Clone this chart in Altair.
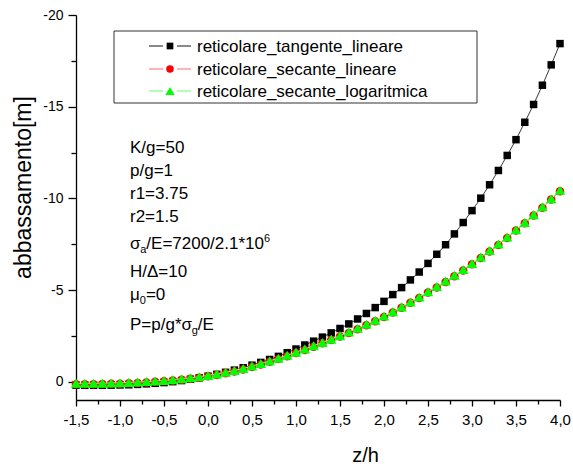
import altair as alt
import pandas as pd

# ---------------- data ----------------
z_h = [-1.5, -1.4, -1.3, -1.2, -1.1, -1.0, -0.9, -0.8, -0.7, -0.6,
       -0.5, -0.4, -0.3, -0.2, -0.1, 0.0, 0.1, 0.2, 0.3, 0.4,
       0.5, 0.6, 0.7, 0.8, 0.9, 1.0, 1.1, 1.2, 1.3, 1.4,
       1.5, 1.6, 1.7, 1.8, 1.9, 2.0, 2.1, 2.2, 2.3, 2.4,
       2.5, 2.6, 2.7, 2.8, 2.9, 3.0, 3.1, 3.2, 3.3, 3.4,
       3.5, 3.6, 3.7, 3.8, 3.9, 4.0]

tangente_lineare = [0.19, 0.20, 0.20, 0.20, 0.19, 0.18, 0.17, 0.15, 0.12, 0.09,
                    0.05, 0.00, -0.06, -0.13, -0.21, -0.30, -0.40, -0.51, -0.63, -0.76,
                    -0.90, -1.05, -1.21, -1.38, -1.58, -1.78, -2.00, -2.21, -2.43, -2.66,
                    -2.90, -3.15, -3.42, -3.72, -4.04, -4.38, -4.75, -5.13, -5.55, -5.98,
                    -6.45, -6.95, -7.47, -8.06, -8.68, -9.33, -10.01, -10.74, -11.52, -12.34,
                    -13.20, -14.15, -15.12, -16.17, -17.28, -18.44]

secante_lineare = [0.14, 0.14, 0.14, 0.13, 0.12, 0.11, 0.09, 0.07, 0.04, 0.01,
                   -0.02, -0.06, -0.11, -0.16, -0.22, -0.29, -0.37, -0.46, -0.56, -0.67,
                   -0.80, -0.94, -1.08, -1.23, -1.39, -1.56, -1.73, -1.91, -2.09, -2.27,
                   -2.46, -2.66, -2.86, -3.08, -3.30, -3.53, -3.77, -4.03, -4.30, -4.57,
                   -4.86, -5.14, -5.44, -5.75, -6.07, -6.40, -6.75, -7.10, -7.46, -7.84,
                   -8.24, -8.64, -9.06, -9.49, -9.93, -10.39]

secante_logaritmica = [0.09, 0.09, 0.09, 0.08, 0.07, 0.06, 0.04, 0.02, -0.01, -0.04,
                       -0.07, -0.11, -0.16, -0.21, -0.27, -0.34, -0.42, -0.51, -0.61, -0.72,
                       -0.85, -0.99, -1.13, -1.28, -1.44, -1.61, -1.78, -1.96, -2.14, -2.32,
                       -2.51, -2.71, -2.91, -3.13, -3.35, -3.58, -3.82, -4.08, -4.35, -4.62,
                       -4.91, -5.19, -5.49, -5.80, -6.12, -6.45, -6.80, -7.15, -7.51, -7.89,
                       -8.29, -8.69, -9.11, -9.54, -9.98, -10.44]

series_names = ["reticolare_tangente_lineare",
                "reticolare_secante_lineare",
                "reticolare_secante_logaritmica"]

x_ticks = [-1.5 + 0.25 * i for i in range(23)]
y_ticks = [-20, -17.5, -15, -12.5, -10, -7.5, -5, -2.5, 0]

# ---------------- styling ----------------
FONT = "Liberation Sans"
line_colors = ["#3a3a3a", "#ff8080", "#80ff80"]
fill_colors = ["#000000", "#ff0000", "#00ff00"]
shapes = ["square", "circle", "triangle-up"]
sizes = [56, 72, 110]

# plot-area origin inside the 573x466 page (used to place decorations)
OX, OY = 76, 15

df = pd.DataFrame({
    "x": z_h * 3,
    "v": tangente_lineare + secante_lineare + secante_logaritmica,
    "serie": [series_names[0]] * len(z_h) + [series_names[1]] * len(z_h) + [series_names[2]] * len(z_h),
})

X = alt.X("x:Q",
          scale=alt.Scale(domain=[-1.5, 4.0], nice=False, zero=False),
          axis=alt.Axis(
              values=x_ticks, grid=False, title="z/h",
              labelExpr="round(datum.value*4) % 2 == 0 ? replace(replace(format(datum.value, '.1f'), '.', ','), '\u2212', '-') : ''",
              tickSize={"condition": {"test": "round(datum.value*4) % 2 == 0", "value": 6}, "value": 4},
              labelOverlap=False, labelFlush=False,
              labelFont=FONT, labelFontSize=15, labelColor="black", labelPadding=6,
              domainColor="black", domainWidth=1.3, tickColor="black", tickWidth=1.3,
              titleFont=FONT, titleFontSize=20, titleFontWeight="normal", titleColor="black",
              titleX=289, titleY=61, titleBaseline="alphabetic", titleAlign="center"))

Y = alt.Y("v:Q",
          scale=alt.Scale(domain=[-20, 1], reverse=True, nice=False, zero=False),
          axis=alt.Axis(
              values=y_ticks, grid=False, title="abbassamento[m]",
              labelExpr="round(datum.value/2.5) % 2 == 0 ? '' + datum.value : ''",
              tickSize={"condition": {"test": "round(datum.value/2.5) % 2 == 0", "value": 8}, "value": 5},
              labelOverlap=False, labelFlush=False,
              labelFont=FONT, labelFontSize=14, labelColor="black", labelPadding=5,
              domainColor="black", domainWidth=1.3, tickColor="black", tickWidth=1.3,
              titleFont=FONT, titleFontSize=23, titleFontWeight="normal", titleColor="black",
              titleAngle=270, titleX=-46, titleY=172, titleBaseline="alphabetic", titleAlign="center"))

base = alt.Chart(df).encode(x=X, y=Y)

layers = []
for i, name in enumerate(series_names):
    sel = base.transform_filter(alt.datum.serie == name)
    layers.append(sel.mark_line(color=line_colors[i], strokeWidth=1))
    layers.append(sel.mark_point(shape=shapes[i], filled=True, fill=fill_colors[i],
                                 size=sizes[i], opacity=1, strokeWidth=0))

one = pd.DataFrame({"k": [0]})

# ---------------- legend (drawn) ----------------
LG_LEFT, LG_RIGHT, LG_TOP, LG_BOTTOM = 114, 477, 31, 103
row_mid = [46, 69, 91]
layers.append(alt.Chart(one).mark_rect(fill="white", stroke="#333333", strokeWidth=1).encode(
    x=alt.value(LG_LEFT - OX), x2=alt.value(LG_RIGHT - OX),
    y=alt.value(LG_TOP - OY), y2=alt.value(LG_BOTTOM - OY)))
for i, name in enumerate(series_names):
    for a, b in [(149, 163), (177, 191)]:
        layers.append(alt.Chart(one).mark_rule(color=line_colors[i], strokeWidth=1.2).encode(
            x=alt.value(a - OX), x2=alt.value(b - OX), y=alt.value(row_mid[i] - OY)))
    layers.append(alt.Chart(one).mark_point(shape=shapes[i], filled=True, fill=fill_colors[i],
                                            size=sizes[i] * 0.8, opacity=1, strokeWidth=0).encode(
        x=alt.value(170 - OX), y=alt.value(row_mid[i] - OY)))
    layers.append(alt.Chart(one).mark_text(text=name, font=FONT, fontSize=17, align="left",
                                           baseline="middle", color="black").encode(
        x=alt.value(197 - OX), y=alt.value(row_mid[i] + 1 - OY)))

# ---------------- annotation block ----------------
W = {"/": 278, "E": 667, "=": 584, "7": 556, "2": 556, "0": 556, ".": 278, "1": 556,
     "*": 389, "6": 556, "P": 667, "p": 556, "g": 556, "\u03c3": 600, "\u03bc": 577, "a": 556}


def tw(s, fs):
    return sum(W.get(c, 556) for c in s) * fs / 1000.0


FS, SFS = 17, 11
AX = 130
# each entry: list of (text, size, baseline shift), baseline y
annot_lines = [
    ([("K/g=50", FS, 0)], 153),
    ([("p/g=1", FS, 0)], 176),
    ([("r1=3.75", FS, 0)], 199),
    ([("r2=1.5", FS, 0)], 222),
    ([("\u03c3", FS, 0), ("a", SFS, 4), ("/E=7200/2.1*10", FS, 0), ("6", SFS, -7)], 249),
    ([("H/\u0394=10", FS, 0)], 277),
    ([("\u03bc", FS, 0), ("0", SFS, 4), ("=0", FS, 0)], 300),
    ([("P=p/g*\u03c3", FS, 0), ("g", SFS, 4), ("/E", FS, 0)], 330),
]
for segs, yb in annot_lines:
    xx = AX
    for txt, fs, dy in segs:
        layers.append(alt.Chart(one).mark_text(text=txt, font=FONT, fontSize=fs, align="left",
                                               baseline="alphabetic", color="black").encode(
            x=alt.value(xx - OX), y=alt.value(yb + dy - OY)))
        xx += tw(txt, fs)

chart = alt.layer(*layers).properties(
    width=484, height=385,
    padding={"left": OX, "top": OY, "right": 13, "bottom": 66},
    autosize=alt.AutoSizeParams(type="none"),
    background="white",
).configure_view(stroke=None)

chart.save("out.html", embed_options={"renderer": "svg", "actions": False})
